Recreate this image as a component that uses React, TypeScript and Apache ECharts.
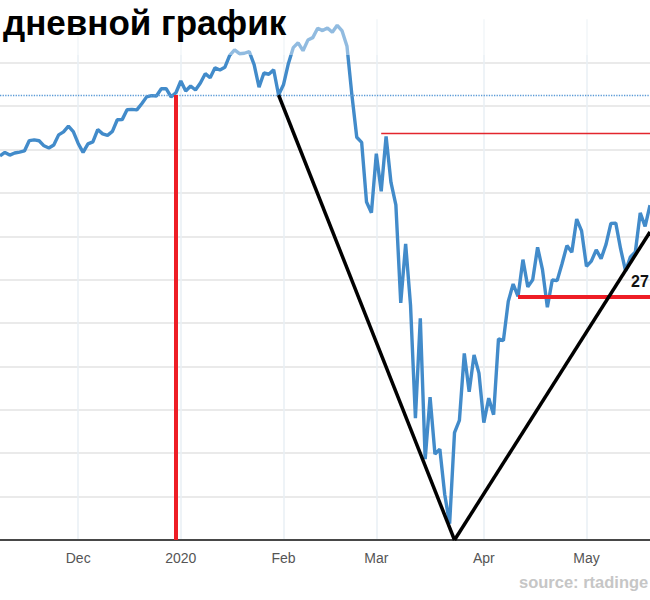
import React, { useEffect, useRef } from "react";
import * as echarts from "echarts";

// S&P 500 daily closes (trading days only)
const dates: string[] = [
  "2019-11-07","2019-11-08","2019-11-11","2019-11-12","2019-11-13","2019-11-14","2019-11-15","2019-11-18","2019-11-19","2019-11-20","2019-11-21","2019-11-22","2019-11-25","2019-11-26","2019-11-27","2019-11-29",
  "2019-12-02","2019-12-03","2019-12-04","2019-12-05","2019-12-06","2019-12-09","2019-12-10","2019-12-11","2019-12-12","2019-12-13","2019-12-16","2019-12-17","2019-12-18","2019-12-19","2019-12-20","2019-12-23","2019-12-24","2019-12-26","2019-12-27","2019-12-30","2019-12-31",
  "2020-01-02","2020-01-03","2020-01-06","2020-01-07","2020-01-08","2020-01-09","2020-01-10","2020-01-13","2020-01-14","2020-01-15","2020-01-16","2020-01-17","2020-01-21","2020-01-22","2020-01-23","2020-01-24","2020-01-27","2020-01-28","2020-01-29","2020-01-30","2020-01-31",
  "2020-02-03","2020-02-04","2020-02-05","2020-02-06","2020-02-07","2020-02-10","2020-02-11","2020-02-12","2020-02-13","2020-02-14","2020-02-18","2020-02-19","2020-02-20","2020-02-21","2020-02-24","2020-02-25","2020-02-26","2020-02-27","2020-02-28",
  "2020-03-02","2020-03-03","2020-03-04","2020-03-05","2020-03-06","2020-03-09","2020-03-10","2020-03-11","2020-03-12","2020-03-13","2020-03-16","2020-03-17","2020-03-18","2020-03-19","2020-03-20","2020-03-23","2020-03-24","2020-03-25","2020-03-26","2020-03-27","2020-03-30","2020-03-31",
  "2020-04-01","2020-04-02","2020-04-03","2020-04-06","2020-04-07","2020-04-08","2020-04-09","2020-04-13","2020-04-14","2020-04-15","2020-04-16","2020-04-17","2020-04-20","2020-04-21","2020-04-22","2020-04-23","2020-04-24","2020-04-27","2020-04-28","2020-04-29","2020-04-30",
  "2020-05-01","2020-05-04","2020-05-05","2020-05-06","2020-05-07","2020-05-08","2020-05-11","2020-05-12","2020-05-13","2020-05-14","2020-05-15","2020-05-18","2020-05-19","2020-05-20",
];

const closes: number[] = [
  3085.18,3093.08,3087.01,3091.84,3094.04,3096.63,3120.46,3122.03,3120.18,3108.46,3103.54,3110.29,3133.64,3140.52,3153.63,3140.98,
  3113.87,3093.2,3112.76,3117.43,3145.91,3135.96,3132.52,3141.63,3168.57,3168.8,3191.45,3192.52,3191.14,3205.37,3221.22,3224.01,3223.38,3239.91,3240.02,3221.29,3230.78,
  3257.85,3234.85,3246.28,3237.18,3253.05,3274.7,3265.35,3288.13,3283.15,3289.29,3316.81,3329.62,3320.79,3321.75,3325.54,3295.47,3243.63,3276.24,3273.4,3283.66,3225.52,
  3248.92,3297.59,3334.69,3345.78,3327.71,3352.09,3357.75,3379.45,3373.94,3380.16,3370.29,3386.15,3373.23,3337.75,3225.89,3128.21,3116.39,2978.76,2954.22,
  3090.23,3003.37,3130.12,3023.94,2972.37,2746.56,2882.23,2741.38,2480.64,2711.02,2386.13,2529.19,2398.1,2409.39,2304.92,2237.4,2447.33,2475.56,2630.07,2541.47,2626.65,2584.59,
  2470.5,2526.9,2488.65,2663.68,2659.41,2749.98,2789.82,2761.63,2846.06,2783.36,2799.55,2874.56,2823.16,2736.56,2799.31,2797.8,2836.74,2878.48,2863.39,2939.51,2912.43,
  2830.71,2842.74,2868.44,2848.42,2881.19,2929.8,2930.32,2870.12,2820.0,2852.5,2863.7,2953.91,2922.94,2971.61,
];

const monthNames: string[] = ["Jan","Feb","Mar","Apr","May","Jun","Jul","Aug","Sep","Oct","Nov","Dec"];

// annotation levels
const yMin = 2200;
const yMax = 3400;
const yStep = 100;
const supportLevel = 3225.52; // Jan 31 close (dotted line / V start)
const yearEndDate = "2019-12-31";
const vStartDate = "2020-01-31";
const vBottomDate = "2020-03-24";
const vRightLevel = 2910;
const resistDate = "2020-03-03";
const resistLevel = 3136.72;
const aprDate = "2020-04-13";
const aprLevel = 2761.63;

const titleText = "дневной график";
const sourceText = "source: rtadinge";
const levelLabel = "27";

const isMonthStart = (i: number) =>
  i > 0 && dates[i].slice(5, 7) !== dates[i - 1].slice(5, 7);

export default function App() {
  const ref = useRef<HTMLDivElement>(null);
  useEffect(() => {
    if (!ref.current) return;
    const chart = echarts.init(ref.current, undefined, { renderer: "svg" });
    const lastDate = dates[dates.length - 1];
    chart.setOption({
      animation: false,
      title: {
        text: titleText,
        left: 3,
        top: 3,
        padding: 0,
        z: 20,
        textStyle: {
          fontFamily: "'Liberation Sans', Arial, sans-serif",
          fontWeight: "bold",
          fontSize: 35,
          lineHeight: 38,
          color: "#000",
        },
      },
      grid: { left: 0, right: 0, top: 19.3, bottom: 60 },
      xAxis: {
        type: "category",
        data: dates,
        boundaryGap: false,
        axisLine: { show: true, lineStyle: { color: "#111", width: 1.5 } },
        axisTick: { show: false },
        axisLabel: {
          interval: (i: number) => isMonthStart(i),
          formatter: (v: string) => {
            const m = parseInt(v.slice(5, 7), 10);
            return m === 1 ? v.slice(0, 4) : monthNames[m - 1];
          },
          color: "#555",
          fontSize: 14,
          fontFamily: "'Liberation Sans', Arial, sans-serif",
          margin: 11,
        },
        splitLine: {
          show: true,
          interval: (i: number) => isMonthStart(i),
          lineStyle: { color: "#e8eff5", width: 1.5 },
        },
      },
      yAxis: {
        type: "value",
        min: yMin,
        max: yMax,
        interval: yStep,
        axisLabel: { show: false },
        axisLine: { show: false },
        axisTick: { show: false },
        splitLine: {
          show: true,
          showMaxLine: false,
          lineStyle: { color: "#e3e3e3", width: 1.5 },
        },
      },
      graphic: [
        {
          type: "rect",
          z: 10,
          silent: true,
          shape: { x: 0, y: 0, width: 650, height: 55 },
          style: { fill: "rgba(255,255,255,0.42)" },
        },
        {
          type: "text",
          z: 20,
          x: 519,
          y: 582,
          style: {
            text: sourceText,
            font: "bold 16.5px 'Liberation Sans', Arial, sans-serif",
            fill: "#c6c6c6",
            verticalAlign: "middle",
          },
        },
        {
          type: "text",
          z: 20,
          x: 631,
          y: 281,
          style: {
            text: levelLabel,
            font: "bold 16px 'Liberation Sans', Arial, sans-serif",
            fill: "#111",
            verticalAlign: "middle",
          },
        },
      ],
      series: [
        {
          type: "line",
          data: closes,
          showSymbol: false,
          symbol: "none",
          lineStyle: { color: "#428bca", width: 3.4 },
          itemStyle: { color: "#428bca" },
          emphasis: { disabled: true },
          markLine: {
            silent: true,
            symbol: ["none", "none"],
            label: { show: false },
            emphasis: { disabled: true },
            data: [
              [
                { coord: [dates[0], supportLevel], lineStyle: { type: "dotted", color: "#5a9ad6", width: 1.3 } },
                { coord: [lastDate, supportLevel] },
              ],
              [
                { coord: [yearEndDate, yMin], lineStyle: { type: "solid", color: "#ee1d25", width: 4 } },
                { coord: [yearEndDate, supportLevel] },
              ],
              [
                { coord: [resistDate, resistLevel], lineStyle: { type: "solid", color: "#e3262d", width: 1.3 } },
                { coord: [lastDate, resistLevel] },
              ],
              [
                { coord: [aprDate, aprLevel], lineStyle: { type: "solid", color: "#ee1d25", width: 4 } },
                { coord: [lastDate, aprLevel] },
              ],
              [
                { coord: [vStartDate, supportLevel], lineStyle: { type: "solid", color: "#000", width: 3.5 } },
                { coord: [vBottomDate, yMin] },
              ],
              [
                { coord: [vBottomDate, yMin], lineStyle: { type: "solid", color: "#000", width: 3.5 } },
                { coord: [lastDate, vRightLevel] },
              ],
            ],
          },
        },
      ],
    });
    return () => chart.dispose();
  }, []);
  return (
    <div
      ref={ref}
      style={{ position: "absolute", left: 0, top: 0, width: 650, height: 600 }}
    />
  );
}
